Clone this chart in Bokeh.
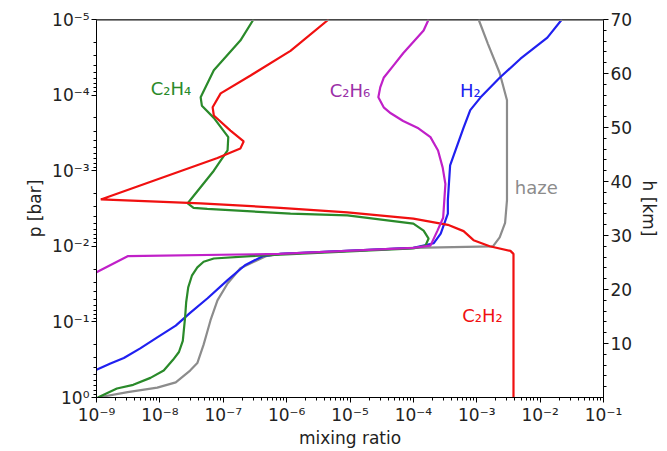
from bokeh.plotting import figure
from bokeh.models import (Range1d, LinearAxis, LinearScale, FixedTicker, CustomJSTickFormatter,
                          Label, Span)
from bokeh.embed import file_html
from bokeh.resources import INLINE

# ---------------- data ----------------
# C2H2 (red)
c2h2_p = [1e-5, 2.6e-5, 5.5e-5, 9.5e-5, 1.45e-4, 1.86e-4, 2.95e-4, 4.1e-4, 5.1e-4, 6.8e-4,
          2.4e-3, 2.7e-3, 3.1e-3, 3.55e-3, 4.3e-3, 5.2e-3, 6.3e-3, 8.3e-3, 1.0e-2, 1.15e-2,
          1.26e-2, 1.0]
c2h2_x = [4.6e-6, 1.15e-6, 2.7e-7, 9.1e-8, 6.8e-8, 7.1e-8, 1.3e-7, 2.1e-7, 1.86e-7, 8.1e-8,
          1.17e-9, 4.4e-8, 7.9e-7, 9.1e-6, 1.0e-4, 3.5e-4, 6.2e-4, 8.9e-4, 1.6e-3, 3.4e-3,
          3.8e-3, 3.8e-3]
# C2H4 (green)
c2h4_p = [1e-5, 1.9e-5, 4.7e-5, 1.07e-4, 1.38e-4, 2.0e-4, 3.6e-4, 5.4e-4, 1.0e-3, 2.7e-3,
          3.1e-3, 3.2e-3, 3.7e-3, 3.9e-3, 5.0e-3, 6.2e-3, 7.9e-3, 9.8e-3, 1.07e-2, 1.29e-2,
          1.35e-2, 1.45e-2, 1.6e-2, 1.9e-2, 2.45e-2, 3.5e-2, 5.5e-2, 8.7e-2, 0.178, 0.25,
          0.32, 0.44, 0.55, 0.68, 0.76, 1.0]
c2h4_x = [3.0e-7, 1.86e-7, 7.1e-8, 4.4e-8, 4.6e-8, 7.1e-8, 1.2e-7, 1.17e-7, 7.1e-8, 2.75e-8,
          3.4e-8, 5.6e-8, 1.15e-6, 9.1e-6, 1.0e-4, 1.45e-4, 1.74e-4, 1.55e-4, 1.0e-4, 7.9e-7,
          2.7e-7, 7.1e-8, 4.9e-8, 3.9e-8, 3.2e-8, 2.8e-8, 2.6e-8, 2.5e-8, 2.3e-8, 2.0e-8,
          1.6e-8, 1.15e-8, 7.1e-9, 3.8e-9, 2.1e-9, 1.05e-9]
# C2H6 (magenta)
c2h6_p = [1e-5, 1.4e-5, 2.8e-5, 4.1e-5, 5.9e-5, 7.9e-5, 1.07e-4, 1.45e-4, 1.74e-4, 2.2e-4,
          2.75e-4, 3.6e-4, 5.4e-4, 9.1e-4, 1.5e-3, 4.2e-3, 6.2e-3, 9.8e-3, 1.05e-2, 1.26e-2,
          1.35e-2, 2.2e-2]
c2h6_x = [1.74e-4, 1.45e-4, 6.9e-5, 4.8e-5, 3.4e-5, 3.0e-5, 2.8e-5, 3.4e-5, 4.4e-5, 6.9e-5,
          1.2e-4, 1.86e-4, 2.45e-4, 2.9e-4, 3.2e-4, 2.95e-4, 2.4e-4, 1.86e-4, 1.0e-4, 7.9e-7,
          3.1e-9, 1e-9]
# H2 (blue)
h2_p = [1e-5, 1.74e-5, 3.3e-5, 5.9e-5, 1.07e-4, 1.58e-4, 2.7e-4, 8.5e-4, 2.45e-3, 3.7e-3,
        6.8e-3, 9.1e-3, 1.05e-2, 1.26e-2, 1.35e-2, 1.78e-2, 2.8e-2, 4.9e-2, 7.6e-2, 0.112,
        0.16, 0.224, 0.30, 0.355, 0.43]
h2_x = [2.2e-2, 1.3e-2, 4.9e-3, 2.3e-3, 1.15e-3, 7.9e-4, 6.2e-4, 3.8e-4, 3.5e-4, 3.5e-4,
        2.7e-4, 2.1e-4, 1.0e-4, 7.9e-7, 4.2e-7, 2.2e-7, 1.17e-7, 5.6e-8, 3.0e-8, 1.78e-8,
        9.1e-9, 4.9e-9, 2.7e-9, 1.66e-9, 1e-9]
# haze (gray)
haze_p = [1e-5, 2.1e-5, 5.1e-5, 1.17e-4, 2.45e-3, 4.9e-3, 7.6e-3, 1.0e-2, 1.05e-2, 1.26e-2,
          1.35e-2, 1.95e-2, 3.1e-2, 5.2e-2, 9.5e-2, 0.15, 0.20, 0.35, 0.44, 0.63, 0.74, 0.85,
          1.0]
haze_x = [1.07e-3, 1.5e-3, 2.3e-3, 3.0e-3, 3.0e-3, 2.8e-3, 2.3e-3, 1.8e-3, 1.0e-4, 7.9e-7,
          4.7e-7, 1.86e-7, 1.17e-7, 8.1e-8, 6.3e-8, 5.4e-8, 4.9e-8, 3.9e-8, 3.0e-8, 1.78e-8,
          9.1e-9, 3.1e-9, 1.05e-9]

x_ticks = [1e-9, 1e-8, 1e-7, 1e-6, 1e-5, 1e-4, 1e-3, 1e-2, 1e-1]
p_ticks = [1e-5, 1e-4, 1e-3, 1e-2, 1e-1, 1e0]
h_ticks = [10, 20, 30, 40, 50, 60, 70]
h_limits = [0, 70]

# ---------------- styling ----------------
FONT = "DejaVu Sans"
RED = "#f01010"
GREEN = "#2a8a2a"
MAGENTA = "#c020c8"
BLUE = "#2020f0"
GRAY = "#8c8c8c"

p = figure(width=667, height=451, x_axis_type="log", y_axis_type="log",
           x_range=Range1d(x_ticks[0], x_ticks[-1]),
           y_range=Range1d(p_ticks[-1], p_ticks[0]),
           output_backend="svg", toolbar_location=None,
           min_border_left=96, min_border_right=64, min_border_top=19, min_border_bottom=54)
p.xgrid.visible = False
p.ygrid.visible = False
p.outline_line_color = "black"
p.outline_line_width = 1
p.background_fill_color = "white"
p.border_fill_color = "white"

sup_code = """
const e = Math.round(Math.log10(tick));
const sup = {'-':'\u207b','0':'\u2070','1':'\u00b9','2':'\u00b2','3':'\u00b3','4':'\u2074',
             '5':'\u2075','6':'\u2076','7':'\u2077','8':'\u2078','9':'\u2079'};
return '10' + String(e).split('').map(c => sup[c]).join('');
"""

x_minor = [k * t for t in x_ticks[:-1] for k in range(2, 10)]
p_minor = [k * t for t in p_ticks[:-1] for k in range(2, 10)]
p.xaxis.ticker = FixedTicker(ticks=x_ticks, minor_ticks=x_minor)
p.yaxis.ticker = FixedTicker(ticks=p_ticks, minor_ticks=p_minor)
p.xaxis.formatter = CustomJSTickFormatter(code=sup_code)
p.yaxis.formatter = CustomJSTickFormatter(code=sup_code)
p.xaxis.axis_label = "mixing ratio"
p.yaxis.axis_label = "p [bar]"

p.extra_y_ranges = {"h": Range1d(h_limits[0], h_limits[1])}
p.extra_y_scales = {"h": LinearScale()}
rax = LinearAxis(y_range_name="h", axis_label="h [km]",
                 ticker=FixedTicker(ticks=h_ticks, minor_ticks=list(range(2, 70, 2))))
p.add_layout(rax, "right")

for ax in [p.xaxis[0], p.yaxis[0], rax]:
    ax.major_label_text_font = FONT
    ax.major_label_text_font_size = "17px"
    ax.major_label_text_color = "#222222"
    ax.axis_label_text_font = FONT
    ax.axis_label_text_font_size = "17px"
    ax.axis_label_text_font_style = "normal"
    ax.axis_label_text_color = "#222222"
    ax.axis_line_color = "black"
    ax.major_tick_line_color = "black"
    ax.minor_tick_line_color = "black"
    ax.major_tick_out = 5
    ax.major_tick_in = 0
    ax.minor_tick_out = 3
    ax.minor_tick_in = 0
    ax.major_label_standoff = 2
    ax.axis_label_standoff = 4
p.xaxis[0].axis_label_standoff = 0

# top spine drawn gray
p.add_layout(Span(location=p_ticks[0], dimension="width", line_color=GRAY, line_width=3))

LW = 2.2
p.line(haze_x, haze_p, line_color=GRAY, line_width=LW)
p.line(h2_x, h2_p, line_color=BLUE, line_width=LW)
p.line(c2h4_x, c2h4_p, line_color=GREEN, line_width=LW)
p.line(c2h2_x, c2h2_p, line_color=RED, line_width=LW)
p.line(c2h6_x, c2h6_p, line_color=MAGENTA, line_width=LW)

def lab(x, y, text, color):
    p.add_layout(Label(x=x, y=y, text=text, text_color=color, text_font=FONT,
                       text_font_size="18px", text_align="center", text_baseline="middle"))

lab(1.5e-8, 8.1e-5, "C\u2082H\u2084", GREEN)
lab(1.0e-5, 8.7e-5, "C\u2082H\u2086", "#9a30a8")
lab(7.9e-4, 8.7e-5, "H\u2082", BLUE)
lab(8.7e-3, 1.66e-3, "haze", GRAY)
lab(1.23e-3, 8.3e-2, "C\u2082H\u2082", RED)

open("out.html", "w").write(file_html(p, INLINE))
